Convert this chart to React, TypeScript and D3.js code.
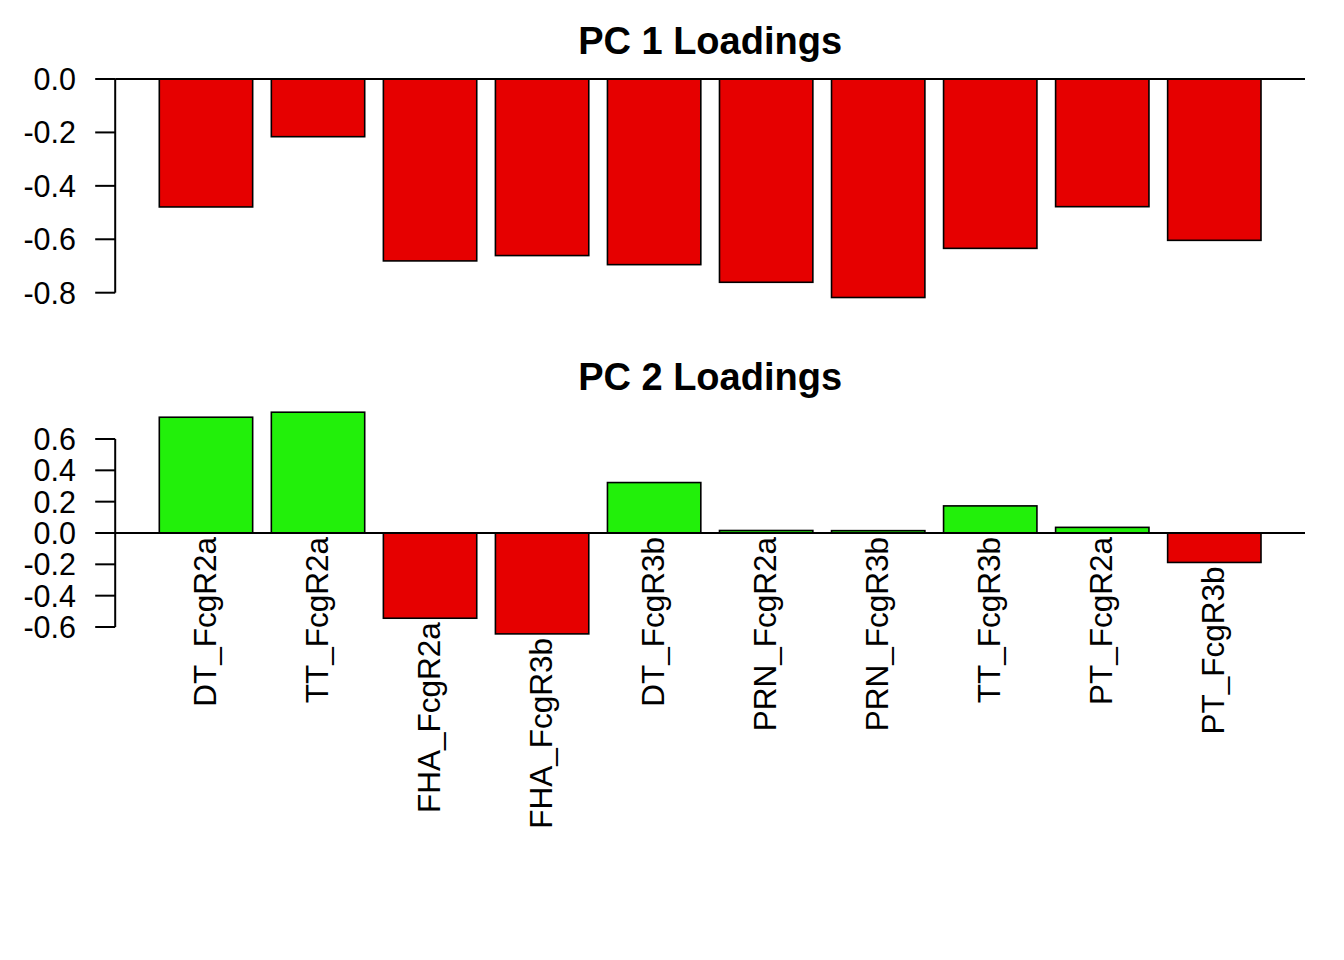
import React from "react";
import * as d3 from "d3";

const categories = [
  "DT_FcgR2a", "TT_FcgR2a", "FHA_FcgR2a", "FHA_FcgR3b", "DT_FcgR3b",
  "PRN_FcgR2a", "PRN_FcgR3b", "TT_FcgR3b", "PT_FcgR2a", "PT_FcgR3b",
];
const pc1Values = [-0.479, -0.216, -0.681, -0.661, -0.695, -0.761, -0.818, -0.634, -0.478, -0.604];
const pc2Values = [0.739, 0.771, -0.544, -0.644, 0.322, 0.016, 0.015, 0.173, 0.036, -0.188];
const pc1Ticks = [0, -0.2, -0.4, -0.6, -0.8];
const pc2Ticks = [0.6, 0.4, 0.2, 0, -0.2, -0.4, -0.6];
const titles = ["PC 1 Loadings", "PC 2 Loadings"];

const RED = "#E60000";
const GREEN = "#22F00A";
const FONT = "'Liberation Sans', Arial, Helvetica, sans-serif";

const W = 1344;
const H = 960;
const plotLeft = 115.2;
const plotRight = 1305;

const x = d3.scaleBand<string>().domain(categories).range([159.3, 1261]).paddingInner(1 / 6).paddingOuter(0);

const fmt = (v: number) => d3.format(".1f")(v).replace("\u2212", "-");

interface PanelProps {
  values: number[];
  ticks: number[];
  y: d3.ScaleLinear<number, number>;
  title: string;
  titleY: number;
  showLabels: boolean;
}

function Panel({ values, ticks, y, title, titleY, showLabels }: PanelProps) {
  const y0 = y(0);
  const tMin = d3.min(ticks) as number;
  const tMax = d3.max(ticks) as number;
  return (
    <g>
      <text x={(plotLeft + plotRight) / 2} y={titleY} textAnchor="middle" fontFamily={FONT} fontWeight="bold" fontSize={38}>
        {title}
      </text>
      {values.map((v, i) => {
        const top = Math.min(y(v), y0);
        const h = Math.abs(y(v) - y0);
        return (
          <rect key={i} x={x(categories[i])} y={top} width={x.bandwidth()} height={h}
            fill={v >= 0 ? GREEN : RED} stroke="#000" strokeWidth={1.6} />
        );
      })}
      <line x1={plotLeft} x2={plotRight} y1={y0} y2={y0} stroke="#000" strokeWidth={2} />
      <line x1={plotLeft} x2={plotLeft} y1={y(tMax)} y2={y(tMin)} stroke="#000" strokeWidth={2} />
      {ticks.map((t, i) => (
        <g key={i}>
          <line x1={plotLeft - 20} x2={plotLeft} y1={y(t)} y2={y(t)} stroke="#000" strokeWidth={2} />
          <text x={76} y={y(t)} dy="0.36em" textAnchor="end" fontFamily={FONT} fontSize={30.5}>
            {fmt(t)}
          </text>
        </g>
      ))}
      {showLabels && categories.map((c, i) => {
        const cx = (x(c) as number) + x.bandwidth() / 2;
        const ly = Math.max(y0, y(values[i])) + 4;
        return (
          <text key={c} x={cx} y={ly} dy="0.32em" textAnchor="end" fontFamily={FONT} fontSize={31.5}
            transform={`rotate(-90, ${cx}, ${ly})`}>
            {c}
          </text>
        );
      })}
    </g>
  );
}

export default function App() {
  const y1 = d3.scaleLinear().domain([0, -0.8]).range([79, 292.7]);
  const y2 = d3.scaleLinear().domain([0.6, -0.6]).range([439, 627]);
  return (
    <svg width={W} height={H} viewBox={`0 0 ${W} ${H}`}
      style={{ position: "absolute", left: 0, top: 0, background: "#fff" }}>
      <rect x={0} y={0} width={W} height={H} fill="#fff" />
      <Panel values={pc1Values} ticks={pc1Ticks} y={y1} title={titles[0]} titleY={54} showLabels={false} />
      <Panel values={pc2Values} ticks={pc2Ticks} y={y2} title={titles[1]} titleY={390} showLabels={true} />
    </svg>
  );
}
